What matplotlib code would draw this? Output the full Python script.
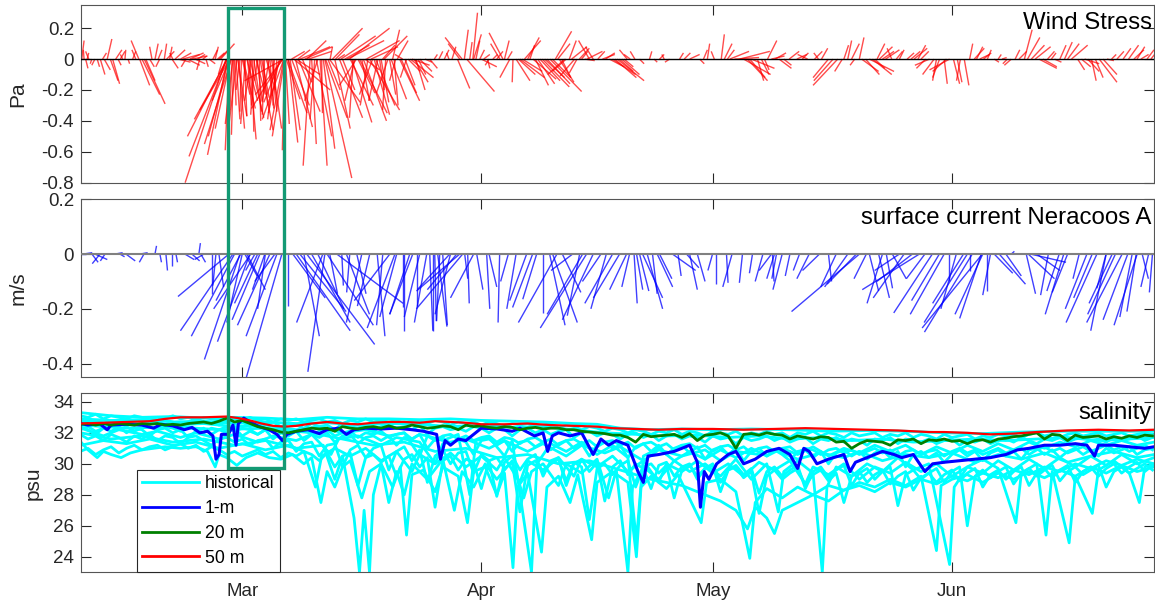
import numpy as np
import matplotlib
matplotlib.use('Agg')
import matplotlib.pyplot as plt
from matplotlib.collections import LineCollection
from matplotlib.patches import Rectangle
from matplotlib.lines import Line2D
from matplotlib.ticker import FormatStrFormatter

plt.rcParams['font.family'] = ['Liberation Sans', 'DejaVu Sans']
plt.rcParams['axes.unicode_minus'] = False

# ---------------- data (time = day of year, Jan 1 = 0) ----------------
month_ticks = [59, 90, 120, 151]
month_labels = ['Mar', 'Apr', 'May', 'Jun']

# wind stress sticks: time, east (Pa), north (Pa)
wind_t = [38.2, 38.5, 38.7, 39.1, 39.9, 40.6, 41.1, 41.5, 41.9, 42.2,
          42.6, 43.2, 43.8, 45.6, 45.7, 46.0, 46.3, 46.5, 47.3, 47.7,
          48.1, 48.3, 48.9, 49.6, 49.9, 50.3, 50.7, 51.3, 51.7, 52.2,
          52.9, 53.5, 54.3, 55.2, 55.8, 56.2, 56.5, 56.9, 57.0, 57.0,
          57.1, 57.1, 57.3, 57.3, 57.4, 57.4, 57.7, 57.9, 58.2, 58.4,
          58.7, 59.0, 59.3, 59.6, 59.9, 60.2, 60.5, 60.8, 61.0, 61.3,
          61.7, 62.1, 62.5, 62.8, 63.2, 64.3, 64.4, 64.4, 64.4, 64.5,
          64.5, 64.7, 65.2, 65.4, 65.7, 66.0, 65.4, 66.2, 66.5, 67.1,
          67.8, 68.4, 68.8, 69.1, 69.3, 69.7, 69.8, 70.1, 70.4, 70.7,
          71.1, 71.4, 71.6, 72.0, 72.3, 72.9, 73.2, 73.6, 73.8, 74.2,
          74.5, 74.9, 75.1, 75.5, 75.9, 76.3, 76.8, 77.2, 77.6, 78.1,
          78.5, 78.9, 79.4, 79.8, 80.1, 80.5, 81.0, 81.5, 82.0, 82.7,
          83.9, 85.2, 86.2, 86.9, 87.5, 87.8, 88.1, 88.5, 88.9, 89.3,
          89.8, 90.3, 90.8, 91.5, 92.8, 93.0, 93.4, 93.7, 94.1, 94.5,
          95.0, 95.6, 96.3, 97.0, 97.6, 98.2, 98.9, 99.6, 100.1, 100.8,
          101.4, 102.1, 102.7, 103.4, 104.0, 105.1, 105.7, 106.6, 107.6, 108.2,
          108.9, 109.9, 110.5, 111.8, 113.1, 114.4, 115.7, 117.0, 118.3, 119.3,
          120.2, 121.1, 121.9, 122.8, 123.5, 124.5, 125.0, 125.8, 126.7, 127.1,
          127.6, 128.6, 129.9, 130.9, 132.3, 133.2, 134.1, 136.2, 136.8, 137.5,
          138.4, 139.0, 139.8, 140.3, 141.0, 141.6, 142.4, 143.2, 144.2, 145.2,
          146.1, 147.0, 148.1, 149.4, 150.0, 150.7, 151.7, 152.6, 153.3, 153.9,
          154.6, 155.6, 156.5, 157.5, 158.7, 159.7, 160.4, 160.8, 161.3, 162.3,
          163.4, 164.3, 165.6, 166.5, 167.3, 168.2, 169.1, 170.1, 171.1, 172.4,
          173.9, 174.6, 175.5, 176.3]
wind_u = [.03, -.01, .03, -.04, -.04, .06, .08, .06, .10, .09,
          .08, .06, .01, -.10, .13, .23, .27, .12, -.03, .04,
          .05, -.05, .03, .03, .08, .13, .16, .22, -.06, .18,
          .13, -.04, .03, .06, .09, .18, -.06, -.53, -.49, -.51,
          -.43, -.26, -.27, -.05, -.39, -.23, -.03, -.03, .05, .12,
          -.05, .10, .03, .14, .09, -.09, .10, .12, -.04, .17,
          .06, .12, -.09, .13, -.09, -.36, -.28, -.18, -.51, -.03,
          -.16, .18, .13, .23, .47, .31, .17, .16, .39, .36,
          -.09, -.06, -.17, .09, .01, .35, .28, .16, .03, .39,
          .31, .09, .30, .16, .32, .52, .26, -.13, -.22, .36,
          .10, .19, .43, .39, -.17, .25, .06, .16, -.04, .08,
          .09, -.08, .26, -.10, .13, .16, .23, .12, .16, .09,
          .04, .06, .05, .16, -.22, .05, .36, .03, .06, .05,
          .06, .08, .03, .06, -.18, .06, .06, -.13, -.01, .18,
          .32, .21, .06, .17, .26, .26, .41, .21, .19, -.22,
          .09, -.19, .13, .13, -.14, .09, .16, .19, .35, .23,
          -.10, -.06, .06, .03, .06, -.06, .05, .13, .06, .03,
          -.04, .04, .09, .32, .39, .26, .30, .08, .06, .12,
          .17, .16, .13, .13, -.13, .10, .08, -.32, -.10, .05,
          -.06, .06, .18, .32, .13, .17, .18, -.06, .06, .09,
          .17, .10, -.19, -.09, .04, -.26, .06, .06, .04, .13,
          .13, .05, .06, .06, -.09, .10, .10, .16, .17, .23,
          .09, .09, .10, .21, .09, .19, .06, .23, .09, .09,
          .13, .13, .10, .09]
wind_v = [.12, .06, -.06, .05, -.04, -.10, -.07, .13, -.14, -.16,
          .06, .05, .06, .12, -.17, -.23, -.29, -.14, .08, .10,
          .06, -.05, .10, .08, -.06, .06, -.02, .03, -.05, .04,
          -.03, -.07, -.05, .06, .04, .10, -.10, -.80, -.63, -.50,
          -.39, -.62, -.50, -.59, -.33, -.27, -.33, -.49, -.39, -.37,
          -.20, -.23, -.37, -.27, -.52, -.27, -.34, -.23, -.14, -.46,
          -.30, -.20, -.27, -.45, -.39, -.23, -.39, -.46, -.14, -.59,
          -.50, -.26, -.46, -.30, -.20, -.10, .05, .06, .08, .08,
          -.69, -.39, -.27, -.69, -.35, -.77, -.38, -.20, .08, .20,
          .16, .03, -.38, -.20, .09, .20, -.41, -.27, -.17, -.35,
          -.27, -.07, .12, -.33, -.23, -.30, -.20, .09, -.33, -.23,
          .19, -.14, -.27, .03, -.17, -.08, -.04, -.20, -.08, -.02,
          .03, .06, .08, -.19, .14, .19, -.21, .11, .30, .12,
          .06, .03, -.06, .03, .17, .12, .05, -.12, -.15, -.14,
          -.12, .12, .09, -.17, -.14, -.12, -.21, .18, -.15, -.10,
          .12, -.11, .07, -.01, .12, .05, .03, -.05, -.14, -.10,
          .06, .05, -.03, .05, .03, -.02, .04, .03, -.03, .10,
          .05, .16, .06, .01, .05, -.14, -.06, -.14, -.07, .12,
          .02, -.06, .05, .03, .03, .05, .07, -.17, -.08, .12,
          -.04, .14, -.10, -.08, -.06, .08, .06, .07, .06, .04,
          .07, .05, -.04, -.12, -.16, -.07, -.15, -.17, .10, .07,
          .03, .06, -.02, .01, -.04, .05, .19, .14, .09, -.06,
          .05, -.02, .11, .09, -.07, -.03, -.14, -.15, -.01, .05,
          .09, .06, .03, .06]

wind_t_extra = [57.5, 57.6, 57.8, 58.0, 58.3, 58.5, 58.9, 59.1, 59.4, 59.7,
                60.0, 60.3, 60.6, 60.9, 61.2, 61.5, 61.9, 62.3, 62.6, 63.0,
                63.5, 63.8, 64.0, 64.2, 64.6, 64.9, 65.0, 65.9, 66.3, 66.8,
                67.4, 67.6, 68.0, 68.6, 69.5, 70.3, 71.0, 71.8, 72.6, 73.0,
                73.4, 74.0, 74.7, 75.3, 75.7, 76.1, 76.6, 77.0, 77.4, 77.9,
                78.3, 78.7, 79.1, 79.6, 80.3, 80.8, 81.3, 81.8, 38.9, 39.5,
                40.2, 40.9, 42.9, 43.5, 44.2, 44.8, 45.2, 47.0, 49.2, 50.0,
                51.0, 51.9, 52.5, 53.2, 53.9, 54.7, 55.5, 56.0, 83.3, 84.5,
                85.8, 87.2, 89.0, 90.0, 91.0, 92.0, 92.4, 94.8, 95.3, 96.0,
                96.7, 97.3, 97.9, 98.5, 99.2, 99.9, 100.4, 101.0, 101.7, 102.4,
                103.0, 103.7, 104.5, 106.1, 107.0, 107.3, 107.9, 108.5, 109.3, 112.4,
                113.7, 116.3, 118.8, 121.5, 122.2, 124.0, 124.8, 126.3, 128.1, 129.2,
                131.6, 133.7, 135.0, 135.6, 137.0, 138.0, 139.3, 140.7, 141.3, 142.0,
                143.8, 145.7, 146.6, 147.6, 148.7, 149.0, 150.3, 151.2, 152.1, 154.2,
                155.1, 157.0, 158.2, 159.2, 161.8, 162.8, 163.9, 165.0, 166.0, 167.8,
                168.6, 169.6, 170.6, 171.7, 173.2, 175.0, 176.8]
wind_u_extra = [-.20, -.35, -.10, .02, -.12, .08, -.02, .16, -.06, .05,
                .18, .02, -.05, .07, .02, .10, -.03, .08, .03, .05,
                -.05, -.14, -.22, -.40, .05, .25, .12, .22, .28, .12,
                .25, .30, .06, .20, .15, .40, .20, .45, .48, .30,
                -.05, .22, .30, -.10, .35, .20, -.12, .10, .30, -.15,
                .20, .05, .14, .20, -.08, .30, .18, .10, .02, -.02,
                .03, .05, .04, -.03, .02, .04, -.05, .06, .10, -.04,
                .14, .16, .20, .10, .05, .08, .04, .12, .10, .05,
                -.03, -.15, .10, .20, -.05, .08, -.12, .22, .26, .15,
                .30, .22, .35, .30, .24, .16, .12, -.18, .20, -.10,
                .08, .20, -.10, .12, .30, .28, .18, .12, -.08, .04,
                -.03, .08, .05, .10, .25, .35, .20, .10, .14, .10,
                .08, -.06, -.20, -.25, .06, .10, .22, .25, .10, .15,
                .08, .12, .10, -.12, -.15, -.05, -.18, .08, -.05, .08,
                .10, .04, -.06, .06, .20, .18, .06, .08, .15, .12,
                .15, .10, .18, .06, .10, .10, .08]
wind_v_extra = [-.45, -.55, -.42, -.30, -.50, -.45, -.34, -.32, -.42, -.30,
                -.38, -.47, -.36, -.28, -.40, -.25, -.36, -.32, -.24, -.34,
                -.30, -.35, -.28, -.32, -.42, -.35, -.54, -.44, -.34, -.15,
                .12, .05, -.55, -.50, -.58, -.28, -.45, .15, .12, -.30,
                -.38, -.22, -.40, -.30, .08, -.36, -.27, -.28, .15, -.22,
                -.26, -.30, .12, -.22, -.12, -.12, -.15, -.10, .04, -.03,
                -.05, .04, -.04, .03, -.03, .05, .06, -.05, .05, .04,
                .04, -.04, .02, .03, .02, -.03, .08, .06, -.06, .05,
                .04, .10, .16, -.05, -.04, .05, .10, -.10, -.08, .14,
                -.13, -.16, -.18, -.16, -.12, .10, -.12, -.08, .08, -.09,
                .05, .05, .08, .04, -.10, -.12, -.08, -.05, .03, -.02,
                .03, .04, .06, .10, .05, -.10, -.12, -.10, .04, -.04,
                .04, .04, -.12, -.14, .09, .10, -.08, -.10, .10, .05,
                .05, .05, .09, -.06, -.10, -.14, -.08, -.16, -.14, .08,
                .04, .03, -.03, .06, .08, -.05, .04, .09, .10, -.05,
                -.08, -.12, -.10, .03, .07, .08, .05]

# surface current sticks: time, east (m/s), north (m/s)
cur_t = [38.36, 38.75, 39.52, 39.91, 40.56, 41.21, 42.50, 43.15, 43.93, 45.74,
         46.26, 47.69, 48.33, 49.11, 49.89, 50.41, 51.57, 52.48, 53.38, 53.64,
         54.03, 55.07, 55.59, 55.98, 57.27, 57.79, 58.70, 59.99, 64.14, 62.58,
         61.29, 60.10, 58.80, 59.34, 59.60, 60.64, 61.93, 63.23, 64.91, 69.45,
         69.71, 65.56, 66.47, 67.37, 68.80, 70.35, 71.91, 72.94, 73.85, 75.53,
         77.22, 78.13, 71.26, 79.81, 80.72, 81.62, 83.31, 83.96, 84.99, 85.90,
         87.84, 87.58, 79.03, 81.11, 82.01, 82.92, 83.70, 84.34, 84.60, 87.19,
         86.80, 88.23, 89.40, 90.69, 92.37, 95.87, 96.65, 97.17, 97.94, 103.64,
         103.13, 98.85, 99.24, 102.74, 101.83, 107.01, 107.92, 108.83, 109.21, 110.12,
         110.51, 110.90, 113.10, 112.19, 114.78, 120.48, 121.78, 123.85, 125.15, 127.61,
         128.26, 116.60, 119.97, 128.00, 127.74, 131.24, 133.83, 139.01, 138.62, 139.91,
         146.78, 145.87, 144.19, 140.30, 148.46, 142.50, 143.28, 149.37, 154.94, 153.64,
         151.57, 150.66, 154.81, 155.59, 153.40, 156.49, 157.14, 158.70, 160.64, 160.90,
         161.20, 164.91, 169.19, 173.07, 171.78, 175.02, 174.37, 174.89, 170.99, 167.50,
         175.67, 91.0, 93.5, 100.5, 105.5, 112.8, 115.5, 118.0, 122.5, 130.0,
         136.0, 141.5, 147.5, 152.5, 156.0, 162.0, 166.0, 168.5, 172.2, 176.5,
         58.0, 59.0, 61.0, 62.0, 63.5, 66.0, 67.0, 68.0, 70.0, 72.5,
         74.5, 76.5, 78.8, 80.0, 86.0, 89.0, 94.5, 99.8, 104.5, 106.2,
         109.8, 111.5, 117.0, 126.5, 129.0, 132.5, 135.0, 137.5, 142.0, 144.8,
         150.0, 153.0, 155.0, 158.0, 163.5, 165.5, 169.8, 171.0, 173.8, 177.0]
cur_u = [.06, -.04, .04, .08, -.05, -.03, .05, .03, .06, .05,
         -.03, .01, .01, .01, .0, .01, .06, .05, .01, .03,
         -.06, .0, -.02, .03, -.33, -.34, -.23, -.21, -.23, -.21,
         -.18, -.24, -.16, .08, .12, -.06, -.08, -.13, .0, -.17,
         -.11, .21, .30, .44, .17, .05, .01, -.02, .06, -.08,
         -.04, -.23, .43, .0, -.13, .0, .02, .01, .03, -.21,
         .02, -.30, -.11, -.15, -.10, -.08, .0, .06, -.02, -.28,
         -.19, .01, .04, .02, -.01, -.11, -.13, -.09, .0, -.30,
         -.23, .10, .16, -.08, -.14, -.18, -.17, -.11, -.05, .04,
         .06, .13, .08, .03, .15, .0, .01, -.02, -.02, -.08,
         -.03, .08, -.03, -.05, .01, -.04, -.11, -.44, -.19, -.08,
         -.37, -.23, -.16, .06, -.25, .04, .09, -.18, -.39, -.31,
         -.10, .0, -.14, .0, .0, .12, .17, .02, .06, .17,
         .23, -.08, -.12, -.23, -.15, -.15, -.08, -.06, -.06, -.04,
         .04, .05, -.05, .12, -.12, .10, .02, .05, -.06, -.03,
         -.10, .07, -.12, -.20, -.05, .15, -.10, -.14, -.18, -.05,
         -.28, -.10, -.15, -.05, -.20, .35, .10, .25, .30, .15,
         -.10, .05, -.18, .00, -.10, -.15, -.06, -.25, -.20, -.10,
         .02, .10, .05, -.05, -.06, -.08, .02, -.15, -.10, -.20,
         -.22, -.28, -.18, .10, -.05, -.12, -.20, -.10, -.16, -.02]
cur_v = [.005, .0, -.03, -.02, -.035, -.025, .005, -.01, -.025, .005,
         -.03, .03, -.03, -.06, -.045, -.03, -.02, -.025, .04, -.03,
         -.02, -.145, -.115, -.12, -.155, -.28, -.385, -.32, -.45, -.26,
         -.24, -.20, -.17, -.08, -.13, -.06, -.13, -.10, -.19, -.25,
         -.43, -.16, -.21, -.33, -.20, -.145, -.115, -.14, -.145, -.19,
         -.26, -.17, -.18, -.195, -.22, -.19, -.28, -.245, -.26, -.13,
         -.09, -.20, -.23, -.22, -.23, -.25, -.28, -.265, -.245, -.135,
         -.13, -.18, -.13, -.20, -.25, -.17, -.195, -.165, -.215, -.27,
         -.22, -.26, -.25, -.225, -.06, -.18, -.16, -.13, -.12, -.13,
         -.135, -.16, -.09, -.145, -.06, -.11, -.105, -.105, -.07, -.06,
         -.09, -.05, -.06, -.09, -.10, -.06, -.06, -.21, -.11, -.09,
         -.13, -.10, -.06, -.135, -.215, -.125, -.09, -.17, -.27, -.285,
         -.20, -.10, -.235, -.135, -.06, -.07, -.11, .01, -.145, -.09,
         -.03, -.135, -.16, -.25, -.18, -.26, -.23, -.21, -.125, -.09,
         -.09, -.12, -.10, -.14, -.10, -.12, -.08, -.10, -.12, -.08,
         -.12, -.16, -.09, -.18, -.15, -.06, -.14, -.20, -.22, -.12,
         -.30, -.25, -.18, -.20, -.30, -.28, -.30, -.25, -.26, -.22,
         -.25, -.30, -.27, -.28, -.22, -.16, -.20, -.25, -.24, -.20,
         -.18, -.20, -.13, -.10, -.13, -.09, -.10, -.12, -.18, -.16,
         -.22, -.25, -.22, -.08, -.15, -.22, -.25, -.28, -.24, -.14]

# salinity (psu): irregular (time, value) readings
sal_50m = [(38.1, 32.6), (41, 32.65), (44, 32.7), (47, 32.75), (49, 32.9), (51, 33.0),
           (54, 33.0), (57, 33.05), (58.5, 32.95), (60, 32.8), (61.5, 32.6), (63, 32.45),
           (64.5, 32.4), (66, 32.45), (68, 32.6), (70, 32.7), (72, 32.6), (74, 32.55),
           (76, 32.65), (78, 32.7), (80, 32.7), (82, 32.65), (84, 32.75), (86, 32.7),
           (88, 32.65), (90, 32.55), (93, 32.55), (96, 32.6), (99, 32.5), (102, 32.45),
           (105, 32.4), (107, 32.3), (110, 32.25), (113, 32.2), (116, 32.25), (120, 32.25),
           (124, 32.2), (128, 32.25), (132, 32.3), (136, 32.25), (140, 32.2), (144, 32.15),
           (148, 32.05), (150, 32.05), (153, 32.0), (156, 31.9), (159, 31.95), (162, 32.05),
           (166, 32.15), (170, 32.2), (174, 32.15), (177.2, 32.2)]
sal_1m = [(38.1, 32.6), (39, 32.5), (40.5, 32.6), (41.5, 32.2), (42, 32.5), (44, 32.55),
          (46, 32.5), (47.5, 32.3), (48.5, 32.55), (50, 32.45), (51.5, 32.2), (52.5, 32.35),
          (53.5, 32.0), (54.5, 32.1), (55.2, 31.8), (55.6, 30.3), (56, 30.6), (56.3, 31.9),
          (57.2, 31.9), (57.8, 32.5), (58.2, 31.2), (58.5, 32.6), (59.2, 32.95), (60, 32.7),
          (61.2, 32.4), (62.5, 32.2), (63.5, 31.9), (64.2, 31.5), (64.8, 31.9), (66, 32.1),
          (67.5, 32.2), (69, 31.95), (70, 32.2), (71.5, 32.3), (72.5, 31.9), (73.5, 32.2),
          (75, 32.3), (77, 32.25), (79, 32.3), (81, 32.2), (82.5, 32.1), (84.2, 31.9),
          (84.7, 30.3), (85.3, 31.5), (86, 31.2), (87, 31.6), (88, 31.5), (89, 31.9),
          (90, 32.3), (92, 32.25), (94, 32.1), (95, 32.3), (96.9, 31.8), (98.0, 32.0),
          (98.6, 30.8), (99.2, 31.8), (100, 32.0), (101.5, 31.8), (103, 32.0), (104.5, 30.6),
          (105.5, 31.6), (106.5, 31.2), (107.5, 31.5), (109, 31.2), (110.3, 29.5), (111, 28.8),
          (111.6, 30.5), (113, 30.6), (115, 30.8), (117, 31.2), (118, 30.1), (118.4, 27.2),
          (118.9, 29.5), (119.5, 29.0), (120.5, 30.0), (122, 30.6), (123, 30.8), (124, 30.0),
          (125.5, 30.3), (127, 30.8), (128.6, 31.0), (130, 30.6), (131, 29.7), (131.8, 31.0),
          (132.5, 30.8), (133.5, 30.0), (135, 30.3), (137, 30.6), (137.8, 29.5), (138.5, 30.1),
          (140, 30.4), (142, 30.8), (143.5, 30.6), (144.5, 30.4), (146, 30.6), (147.5, 29.5),
          (148.5, 30.0), (150, 30.1), (152, 30.2), (154, 30.3), (156, 30.4), (158, 30.6),
          (159.5, 30.9), (161, 31.0), (163, 31.2), (165, 31.2), (167, 31.3), (168.5, 31.2),
          (169.5, 30.5), (170, 31.2), (172, 31.2), (174, 31.1), (176, 31.0), (177.2, 31.1)]

hist_a = [(38.1, 33.3), (42, 33.1), (46, 33.0), (50, 33.05), (54, 32.95), (58, 33.0),
          (62, 32.95), (66, 32.85), (70, 33.0), (74, 32.9), (78, 32.9), (82, 32.85),
          (86, 32.9), (90, 32.8), (94, 32.75), (98, 32.7), (102, 32.6), (105, 32.55),
          (108, 32.3), (112, 32.2), (116, 32.25), (120, 32.2), (125, 32.25), (130, 32.2),
          (135, 32.1), (140, 32.15), (145, 32.1), (150, 32.0), (155, 31.95), (160, 32.05),
          (165, 32.1), (170, 32.1), (177.2, 32.1)]
hist_b = [(38.1, 32.9), (42, 32.8), (46, 32.85), (50, 32.7), (54, 32.75), (58, 32.6),
          (62, 32.7), (66, 32.6), (70, 32.65), (74, 32.5), (78, 32.6), (82, 32.55),
          (86, 32.4), (90, 32.5), (94, 32.35), (98, 32.4), (102, 32.2), (106, 32.0),
          (110, 31.9), (114, 31.8), (118, 31.85), (122, 31.7), (126, 31.8), (130, 31.6),
          (134, 31.7), (138, 31.5), (142, 31.6), (146, 31.4), (150, 31.5), (154, 31.6),
          (158, 31.5), (162, 31.6), (166, 31.7), (170, 31.5), (174, 31.6), (177.2, 31.7)]
hist_c = [(38.1, 32.3), (41, 31.8), (43, 32.2), (46, 31.9), (48, 32.1), (51, 31.7),
          (53, 32.0), (56, 31.6), (58, 31.9), (61, 31.4), (63, 31.8), (66, 31.5),
          (68, 31.9), (70.5, 30.6), (71.5, 31.6), (74, 31.8), (77, 31.2), (79, 31.7),
          (82, 31.4), (84, 30.0), (85, 31.3), (88, 31.6), (91, 31.0), (93, 31.5),
          (96, 30.8), (98, 31.3), (101, 30.5), (103, 31.2), (106, 30.7), (108, 31.1),
          (111, 30.2), (113, 30.9), (116, 30.5), (119, 30.9), (121, 30.2), (123, 30.8),
          (126, 30.6), (128, 30.9), (131, 30.3), (134, 30.7), (137, 30.4), (139, 30.8),
          (142, 30.2), (145, 30.6), (148, 30.4), (151, 30.7), (154, 30.1), (157, 30.6),
          (160, 30.3), (163, 30.7), (166, 30.1), (169, 30.5), (172, 30.8), (175, 30.4),
          (177.2, 30.6)]
hist_d = [(38.1, 31.4), (39, 30.9), (40.2, 30.4), (41, 30.8), (42, 30.6), (43.3, 30.4),
          (44.5, 30.7), (46, 30.9), (47.5, 31.0), (49, 31.1), (51, 31.0), (53, 31.1),
          (54.5, 30.8), (55.5, 29.8), (56, 30.6), (57, 30.4), (58.3, 29.9), (59.5, 30.4),
          (61, 30.7), (62.5, 30.4), (64, 30.3), (65.5, 30.6), (67, 30.0), (68, 30.4),
          (69.2, 27.5), (70, 29.5), (71, 28.5), (72, 29.8), (73, 30.2), (74.5, 27.8),
          (75.5, 29.5), (77, 30.0), (78.5, 28.5), (79.5, 29.8), (80.3, 25.4), (81, 29.3),
          (82.5, 29.6), (84, 28.2), (85, 29.8), (87, 29.2), (88.2, 26.2), (89, 29.5),
          (90.5, 29.8), (92, 28.0), (93, 29.4), (94.1, 23.3), (94.7, 28.5), (96, 29.4),
          (97.8, 24.3), (98.5, 28.5), (100, 29.2), (101.5, 27.5), (102.5, 29.3), (104.3, 25.1),
          (105, 28.8), (107, 29.5), (109, 28.8), (110.1, 24.0), (110.7, 28.5), (112, 29.2),
          (114, 28.4), (115.5, 29.3), (118.5, 26.2), (119.2, 28.8), (121, 29.0), (123, 28.2),
          (124.8, 23.9), (125.5, 27.5), (127, 28.4), (129, 27.8), (131, 28.5), (133, 28.0),
          (135, 28.6), (137, 28.3), (139, 28.8), (141, 28.5), (143, 29.0), (145, 28.6),
          (147, 29.2), (149, 24.4), (149.6, 28.6), (151, 29.0), (153, 29.3), (155, 28.8),
          (157, 29.4), (159, 29.0), (161, 29.5), (163, 29.1), (165, 29.6), (167, 29.2),
          (169, 29.8), (171, 29.4), (173, 29.9), (175, 29.5), (177.2, 29.8)]
hist_e = [(38.1, 32.0), (42, 31.6), (46, 31.8), (50, 31.4), (54, 31.6), (58, 31.2),
          (62, 31.5), (66, 31.0), (69.5, 31.2), (71, 29.0), (72, 30.5), (73.5, 26.5),
          (74.2, 23.0), (74.8, 27.0), (75.5, 23.0), (76, 28.0), (77, 30.0), (78, 27.5),
          (79, 29.5), (80, 28.0), (81, 30.0), (83, 29.0), (85, 30.3), (86.5, 27.0),
          (87.5, 29.5), (89, 28.5), (90.5, 30.0), (92, 29.0), (94, 30.2), (95.5, 27.8),
          (96.5, 29.5), (98, 30.0), (100, 28.6), (101, 30.0), (103, 29.4), (105, 30.3),
          (106.5, 27.8), (107.5, 29.6), (109, 23.0), (109.6, 28.5), (111, 29.8), (113, 29.0),
          (115, 30.2), (117, 29.5), (119, 30.0), (121, 29.2), (123, 30.3), (125, 29.0),
          (127, 30.0), (128.5, 26.9), (129.2, 29.5), (131, 30.2), (133, 29.4), (134.2, 23.0),
          (134.8, 28.5), (136, 29.8), (138, 29.2), (140, 30.0), (142, 29.5), (144, 30.4),
          (146, 29.6), (148, 30.0), (150.7, 23.5), (151.3, 28.5), (153, 29.8), (155, 30.3),
          (157, 29.7), (159.3, 26.2), (160, 29.4), (162, 30.0), (163.2, 25.4), (164, 29.5),
          (166.2, 24.9), (167, 29.2), (169.2, 26.8), (170, 29.6), (172, 30.2), (174, 29.4),
          (175.3, 27.5), (176, 29.8), (177.2, 30.0)]
hist_f = [(38.1, 31.2), (41, 31.5), (44, 31.3), (47, 31.6), (50, 31.2), (53, 31.4),
          (56, 31.0), (59, 31.3), (62, 30.9), (65, 31.2), (67, 30.8), (68.5, 28.5),
          (69.3, 30.5), (71, 31.0), (73, 30.5), (75, 31.0), (77, 30.2), (79, 30.8),
          (81, 29.5), (82, 30.6), (84, 30.0), (86, 30.7), (88, 29.8), (90, 30.5),
          (92, 29.6), (93, 30.4), (95, 28.8), (96, 30.2), (98, 29.6), (100, 30.4),
          (102, 29.2), (103, 30.3), (105, 29.8), (107, 30.5), (109, 29.5), (111, 30.2),
          (113, 28.8), (114, 30.0), (116, 29.5), (118, 30.2), (120, 29.4), (122, 30.0),
          (124, 29.2), (126, 30.1), (128, 29.6), (130, 30.2), (132, 28.7), (133, 29.8),
          (135, 29.3), (137, 30.0), (139, 29.0), (141, 29.8), (143, 29.4), (145, 30.1),
          (147, 29.5), (149, 30.0), (151, 29.2), (153, 29.8), (155, 29.4), (157, 30.2),
          (159, 29.6), (161, 30.3), (163, 29.7), (165, 30.4), (167, 29.8), (169, 30.5),
          (171, 29.9), (173, 30.6), (175, 30.0), (177.2, 30.4)]
hist_g = [(38.1, 32.5), (44, 32.3), (50, 32.4), (56, 32.2), (62, 32.3), (68, 32.0),
          (72, 31.6), (76, 31.2), (80, 31.4), (84, 30.8), (88, 31.0), (92, 30.4),
          (96, 30.6), (100, 30.0), (104, 30.2), (108, 29.6), (112, 29.0), (116, 28.6),
          (119, 28.0), (121, 27.6), (123, 27.0), (124.5, 25.8), (125.5, 27.2), (127, 26.5),
          (128, 25.5), (129, 27.0), (131, 27.5), (133, 28.0), (135, 27.6), (137, 28.3),
          (139, 28.6), (141, 28.2), (143, 28.8), (145, 28.5), (147, 29.0), (149, 28.7),
          (151, 29.2), (153, 28.9), (155, 29.4), (157, 29.1), (159, 29.6), (161, 29.3),
          (163, 29.8), (165, 29.5), (167, 30.0), (169, 29.7), (171, 30.2), (173, 29.9),
          (175, 30.3), (177.2, 30.0)]
hist_h = [(38.1, 32.8), (42, 32.6), (46, 32.7), (50, 32.5), (54, 32.6), (58, 32.4),
          (62, 32.5), (66, 32.2), (69, 32.4), (72, 32.0), (75, 32.2), (78, 31.8),
          (80, 32.0), (82, 30.5), (83, 31.8), (85, 31.5), (87, 31.9), (88.5, 28.0),
          (89.3, 31.5), (91, 31.7), (93, 30.5), (94, 31.5), (96.5, 23.0), (97.2, 30.0),
          (99, 31.3), (101, 30.8), (103, 31.4), (105, 30.6), (107, 31.2), (109, 30.4),
          (110.1, 25.0), (111, 30.5), (113, 31.0), (115, 30.2), (117, 30.8), (119, 30.3),
          (121, 30.9), (123, 30.4), (125, 31.0), (127, 30.5), (129, 31.0), (131, 30.6),
          (133, 31.1), (135, 30.5), (137, 31.0), (139, 30.7), (141, 31.2), (143, 30.8),
          (145, 31.2), (147, 30.6), (149, 31.1), (151, 30.7), (153, 31.2), (155, 30.8),
          (157, 31.3), (159, 30.9), (161, 31.4), (163, 31.0), (165, 31.4), (167, 31.1),
          (169, 31.5), (171, 31.2), (173, 31.5), (175, 31.2), (177.2, 31.4)]

# daily readings (days 38 .. 177)
daily_days = list(range(38, 178))
sal_20m_daily = [32.55, 32.6, 32.5, 32.6, 32.5, 32.6, 32.55, 32.5, 32.6, 32.55,
                 32.6, 32.5, 32.55, 32.5, 32.6, 32.65, 32.7, 32.6, 32.75, 32.95,
                 32.7, 32.8, 32.6, 32.4, 32.3, 32.2, 32.05, 32.0, 32.1, 32.2,
                 32.3, 32.25, 32.3, 32.1, 32.4, 32.3, 32.25, 32.35, 32.4, 32.3,
                 32.45, 32.3, 32.35, 32.5, 32.4, 32.3, 32.35, 32.45, 32.4, 32.2,
                 32.5, 32.4, 32.45, 32.35, 32.3, 32.4, 32.35, 32.2, 32.3, 32.35,
                 32.25, 32.3, 32.3, 32.2, 32.2, 32.1, 32.05, 32.0, 31.95, 31.85,
                 31.85, 31.7, 31.4, 31.9, 31.75, 31.8, 31.85, 31.9, 31.7, 31.95,
                 31.5, 31.85, 31.9, 32.0, 31.8, 31.0, 31.9, 31.95, 31.85, 32.0,
                 31.9, 31.85, 31.6, 31.8, 31.7, 31.6, 31.75, 31.7, 31.4, 31.45,
                 31.0, 31.3, 31.5, 31.45, 31.4, 31.2, 31.55, 31.5, 31.6, 31.3,
                 31.55, 31.5, 31.6, 31.45, 31.5, 31.3, 31.5, 31.55, 31.4, 31.6,
                 31.65, 31.75, 31.8, 31.9, 32.0, 31.6, 31.9, 31.85, 31.5, 31.85,
                 31.7, 31.75, 31.8, 31.6, 31.75, 31.65, 31.8, 31.7, 31.85, 31.8]
hist_i = [32.9, 32.7, 32.8, 32.6, 32.8, 32.7, 32.9, 32.6, 32.7, 32.8,
          32.6, 32.8, 32.7, 32.5, 32.7, 32.8, 32.6, 32.7, 32.5, 32.8,
          32.6, 32.7, 32.4, 32.6, 32.5, 32.7, 32.4, 32.6, 32.5, 32.3,
          32.6, 32.4, 32.5, 32.2, 32.6, 32.4, 32.3, 32.5, 32.1, 32.4,
          32.5, 32.3, 32.4, 32.2, 32.5, 31.9, 32.3, 32.4, 32.2, 32.3,
          32.1, 32.4, 32.3, 32.0, 32.3, 32.2, 31.8, 32.2, 32.3, 32.0,
          32.2, 31.9, 32.1, 32.2, 31.7, 32.0, 32.1, 31.8, 32.0, 31.9,
          31.6, 31.9, 32.0, 31.7, 31.9, 31.5, 31.8, 31.9, 31.6, 31.8,
          31.7, 31.4, 31.8, 31.6, 31.7, 31.3, 31.7, 31.5, 31.6, 31.8,
          31.5, 31.7, 31.4, 31.6, 31.7, 31.3, 31.6, 31.5, 31.7, 31.4,
          31.6, 31.5, 31.2, 31.6, 31.5, 31.7, 31.3, 31.6, 31.5, 31.4,
          31.6, 31.3, 31.5, 31.6, 31.2, 31.5, 31.4, 31.6, 31.3, 31.5,
          31.6, 31.4, 31.7, 31.5, 31.3, 31.6, 31.5, 31.7, 31.4, 31.6,
          31.7, 31.5, 31.6, 31.4, 31.7, 31.5, 31.6, 31.8, 31.5, 31.7]
hist_j = [32.4, 32.2, 31.9, 32.3, 32.1, 32.4, 32.0, 32.3, 32.2, 31.8,
          32.2, 32.3, 32.0, 32.2, 31.7, 32.1, 32.3, 31.9, 32.2, 32.0,
          32.3, 31.8, 32.1, 31.9, 32.2, 31.6, 32.0, 31.8, 32.1, 31.5,
          31.9, 31.7, 32.0, 31.4, 31.8, 31.9, 31.3, 31.7, 31.8, 31.5,
          31.8, 31.2, 31.7, 31.6, 31.9, 31.0, 31.6, 31.7, 31.3, 31.6,
          31.4, 30.6, 31.5, 31.6, 31.2, 31.5, 30.8, 31.4, 31.5, 31.1,
          31.4, 30.9, 31.3, 31.5, 31.0, 31.3, 30.5, 31.2, 31.4, 31.0,
          31.2, 30.4, 31.1, 31.3, 30.8, 31.2, 30.6, 31.0, 31.2, 30.7,
          31.1, 30.3, 30.9, 31.1, 30.6, 31.0, 30.2, 30.8, 31.0, 30.5,
          30.9, 30.6, 30.2, 30.8, 30.9, 30.4, 30.8, 30.0, 30.7, 30.9,
          30.5, 30.8, 30.3, 30.7, 30.9, 30.4, 30.8, 29.8, 30.6, 30.8,
          30.4, 30.7, 30.1, 30.6, 30.9, 30.5, 30.8, 30.2, 30.7, 30.9,
          30.5, 30.8, 30.3, 30.9, 31.0, 30.6, 30.9, 30.4, 30.8, 31.0,
          30.6, 30.9, 30.5, 31.0, 30.7, 30.9, 31.1, 30.6, 30.9, 31.0]
hist_k = [31.9, 31.6, 31.8, 31.5, 31.9, 31.7, 31.4, 31.8, 31.6, 31.9,
          31.5, 31.8, 31.7, 31.3, 31.7, 31.8, 31.5, 31.2, 31.6, 31.7,
          31.4, 31.6, 31.2, 31.5, 31.6, 31.0, 31.4, 31.5, 30.8, 31.3,
          31.4, 30.5, 31.2, 31.3, 29.8, 30.9, 31.2, 30.4, 31.0, 31.2,
          29.6, 30.8, 31.1, 30.2, 30.9, 28.8, 30.5, 30.9, 30.0, 30.7,
          30.8, 29.4, 30.6, 30.2, 27.9, 30.1, 30.5, 29.6, 30.3, 30.6,
          29.2, 30.2, 30.4, 28.6, 30.0, 30.3, 29.5, 30.1, 27.6, 29.8,
          30.2, 29.3, 30.0, 29.7, 28.4, 29.9, 30.1, 29.2, 29.8, 30.0,
          29.0, 29.7, 29.9, 28.2, 29.6, 29.8, 29.1, 29.5, 26.8, 29.2,
          29.6, 29.0, 29.4, 29.7, 28.6, 29.3, 29.6, 28.9, 29.4, 27.5,
          29.2, 29.5, 28.8, 29.3, 29.6, 28.7, 29.2, 29.5, 28.3, 29.1,
          29.4, 28.8, 29.3, 29.6, 28.9, 29.4, 29.7, 28.5, 29.3, 29.6,
          29.0, 29.5, 29.8, 28.6, 29.4, 29.7, 29.1, 29.6, 29.9, 28.8,
          29.5, 29.8, 29.2, 29.7, 30.0, 29.4, 29.8, 30.1, 29.5, 29.9]
hist_l = [33.1, 33.0, 33.2, 32.9, 33.1, 33.0, 32.9, 33.1, 33.0, 32.9,
          33.0, 32.9, 33.1, 32.9, 33.0, 32.8, 33.0, 32.9, 32.8, 33.0,
          32.9, 32.8, 33.0, 32.8, 32.9, 32.7, 32.9, 32.8, 32.9, 32.7,
          32.8, 32.9, 32.7, 32.8, 32.6, 32.8, 32.7, 32.9, 32.7, 32.8,
          32.7, 32.8, 32.6, 32.8, 32.7, 32.6, 32.8, 32.7, 32.5, 32.7,
          32.6, 32.7, 32.5, 32.7, 32.6, 32.4, 32.6, 32.5, 32.6, 32.4,
          32.5, 32.6, 32.3, 32.5, 32.4, 32.2, 32.4, 32.3, 32.1, 32.3,
          32.2, 32.0, 32.2, 32.1, 31.9, 32.1, 32.0, 32.2, 31.9, 32.1,
          32.0, 31.8, 32.1, 32.0, 31.9, 32.1, 31.8, 32.0, 31.9, 32.1,
          31.9, 32.0, 31.7, 32.0, 31.9, 32.1, 31.8, 32.0, 31.9, 31.7,
          32.0, 31.8, 31.9, 32.0, 31.7, 31.9, 31.8, 32.0, 31.7, 31.9,
          31.8, 31.6, 31.9, 31.7, 31.8, 31.9, 31.6, 31.8, 31.7, 31.9,
          31.8, 31.9, 31.7, 31.9, 32.0, 31.8, 31.9, 31.7, 31.9, 32.0,
          31.8, 31.9, 32.0, 31.8, 31.9, 32.0, 31.8, 31.9, 32.0, 31.9]
hist_m = [30.8, 31.0, 30.6, 30.9, 31.1, 30.7, 31.0, 31.2, 30.9, 31.1,
          31.2, 30.9, 31.1, 31.3, 31.0, 31.2, 30.8, 31.1, 30.9, 30.6,
          30.8, 30.5, 30.7, 30.9, 30.6, 30.8, 30.4, 30.7, 30.5, 30.8,
          30.6, 30.2, 30.7, 29.8, 30.5, 30.7, 28.6, 30.4, 30.6, 30.1,
          30.5, 29.2, 30.3, 30.6, 29.8, 30.4, 27.2, 30.2, 30.5, 29.6,
          30.3, 30.1, 28.4, 30.2, 30.4, 29.7, 30.1, 26.9, 29.9, 30.2,
          29.5, 30.0, 30.3, 28.9, 30.1, 29.8, 26.4, 29.7, 30.0, 29.3,
          29.9, 30.2, 28.5, 29.8, 30.0, 29.4, 29.9, 27.8, 29.6, 29.9,
          29.2, 29.7, 30.0, 28.8, 29.6, 29.9, 29.3, 29.7, 28.1, 29.5,
          29.8, 29.2, 29.6, 29.9, 28.4, 29.5, 29.8, 29.1, 29.6, 29.9,
          28.6, 29.4, 29.7, 29.0, 29.5, 29.8, 27.3, 29.3, 29.6, 29.0,
          29.4, 29.7, 28.8, 29.5, 29.8, 26.0, 29.2, 29.6, 29.1, 29.5,
          29.8, 28.7, 29.4, 29.7, 29.2, 29.6, 29.9, 28.9, 29.5, 29.8,
          29.3, 29.6, 29.9, 28.5, 29.5, 29.8, 29.4, 29.7, 30.0, 29.6]
hist_n = [32.2, 32.4, 32.1, 32.3, 32.5, 32.2, 32.4, 32.1, 32.3, 32.4,
          32.2, 32.4, 32.3, 32.1, 32.4, 32.2, 32.0, 32.3, 32.2, 32.4,
          32.1, 32.3, 32.2, 31.9, 32.2, 32.1, 32.3, 31.9, 32.1, 32.2,
          31.9, 32.1, 32.2, 31.8, 32.0, 32.1, 31.7, 32.0, 31.9, 32.1,
          31.7, 31.9, 32.0, 31.6, 31.9, 31.8, 31.5, 31.8, 31.9, 31.6,
          31.8, 31.5, 31.7, 31.8, 31.4, 31.7, 31.6, 31.3, 31.6, 31.7,
          31.4, 31.6, 31.2, 31.5, 31.6, 31.3, 31.5, 31.1, 31.4, 31.5,
          31.2, 31.4, 31.0, 31.3, 31.4, 31.1, 31.3, 30.9, 31.2, 31.3,
          31.0, 31.2, 30.8, 31.1, 31.2, 30.9, 31.1, 30.7, 31.0, 31.1,
          30.8, 31.0, 31.1, 30.7, 31.0, 30.9, 30.6, 30.9, 31.0, 30.7,
          30.9, 30.6, 30.8, 31.0, 30.7, 30.9, 30.5, 30.8, 30.9, 30.6,
          30.8, 30.9, 30.5, 30.8, 31.0, 30.7, 30.9, 30.6, 30.8, 31.0,
          30.7, 30.9, 31.0, 30.6, 30.9, 31.1, 30.8, 31.0, 30.7, 30.9,
          31.1, 30.8, 31.0, 31.2, 30.9, 31.1, 30.8, 31.0, 31.2, 30.9]

historical_pairs = [hist_a, hist_b, hist_c, hist_d, hist_e, hist_f, hist_g, hist_h]
historical_daily = [hist_i, hist_j, hist_k, hist_l, hist_m, hist_n]

# ---------------- figure ----------------
W, H = 1155, 609
fig = plt.figure(figsize=(W / 100, H / 100), dpi=100)


def px_axes(x0, y0, x1, y1):
    return fig.add_axes([x0 / W, 1 - y1 / H, (x1 - x0) / W, (y1 - y0) / H])


ax1 = px_axes(81, 5, 1154, 182.7)
ax2 = px_axes(81, 199.3, 1154, 377.3)
ax3 = px_axes(81, 393.3, 1154, 572.3)
XLIM = (38.1, 177.2)
AXC = '#262626'
TICK_FS = 13.5
TITLE_FS = 17.3
YLAB_FS = 15

for ax in (ax1, ax2, ax3):
    ax.set_xlim(*XLIM)
    ax.set_xticks(month_ticks)
    ax.tick_params(direction='in', length=7.5, width=0.8, colors=AXC,
                   labelsize=TICK_FS, top=True, right=True, pad=5)
    for sp in ax.spines.values():
        sp.set_color('#555555')
        sp.set_linewidth(0.8)
ax1.tick_params(labelbottom=False)
ax2.tick_params(labelbottom=False)
ax3.set_xticklabels(month_labels)
ax3.tick_params(axis='x', pad=8)


def sticks(t, u, v, scale):
    n = min(len(t), len(u), len(v))
    return [[(t[i], 0.0), (t[i] + u[i] * scale, v[i])] for i in range(n)]


# wind sticks
WIND_SCALE = 10.0  # days of x-axis per Pa
segs = sticks(wind_t, wind_u, wind_v, WIND_SCALE) + \
    sticks(wind_t_extra, wind_u_extra, wind_v_extra, WIND_SCALE)
ax1.add_collection(LineCollection(segs, colors='#ff0000', linewidths=1.0, alpha=0.7))
ax1.axhline(0, color='black', lw=1.0, zorder=3)
ax1.set_ylim(-0.8, 0.35)
ax1.set_yticks([-0.8, -0.6, -0.4, -0.2, 0, 0.2])
ax1.yaxis.set_major_formatter(FormatStrFormatter('%g'))
ax1.set_ylabel('Pa', fontsize=YLAB_FS, color=AXC)
ax1.yaxis.set_label_coords(-0.050, 0.5)
ax1.text(0.998, 0.90, 'Wind Stress', transform=ax1.transAxes, ha='right', va='center',
         fontsize=TITLE_FS, color='black')

# current sticks
CUR_SCALE = 20.0  # days of x-axis per m/s
segs = sticks(cur_t, cur_u, cur_v, CUR_SCALE)
ax2.add_collection(LineCollection(segs, colors='#0000ff', linewidths=1.0, alpha=0.75))
ax2.axhline(0, color='#808080', lw=1.5, zorder=3)
ax2.set_ylim(-0.45, 0.2)
ax2.set_yticks([-0.4, -0.2, 0, 0.2])
ax2.yaxis.set_major_formatter(FormatStrFormatter('%g'))
ax2.set_ylabel('m/s', fontsize=YLAB_FS, color=AXC)
ax2.yaxis.set_label_coords(-0.050, 0.5)
ax2.text(0.998, 0.895, 'surface current Neracoos A', transform=ax2.transAxes, ha='right',
         va='center', fontsize=TITLE_FS, color='black')

# salinity
CYAN = '#00ffff'
for h in historical_pairs:
    t, s = zip(*h)
    ax3.plot(t, s, color=CYAN, lw=2.0, zorder=2)
for s in historical_daily:
    n = min(len(daily_days), len(s))
    ax3.plot(daily_days[:n], s[:n], color=CYAN, lw=2.0, zorder=2)
t, s = zip(*sal_1m)
ax3.plot(t, s, color='#0000ff', lw=2.2, zorder=3)
n = min(len(daily_days), len(sal_20m_daily))
ax3.plot(daily_days[:n], sal_20m_daily[:n], color='#008000', lw=2.0, zorder=3)
t, s = zip(*sal_50m)
ax3.plot(t, s, color='#ff0000', lw=1.6, zorder=3)
ax3.set_ylim(23, 34.55)
ax3.set_yticks([24, 26, 28, 30, 32, 34])
ax3.set_ylabel('psu', fontsize=YLAB_FS, color=AXC)
ax3.yaxis.set_label_coords(-0.036, 0.5)
ax3.text(0.998, 0.89, 'salinity', transform=ax3.transAxes, ha='right', va='center',
         fontsize=TITLE_FS, color='black')

handles = [Line2D([], [], color=CYAN, lw=2), Line2D([], [], color='#0000ff', lw=2),
           Line2D([], [], color='#008000', lw=2), Line2D([], [], color='#ff0000', lw=2)]
leg = ax3.legend(handles, ['historical', '1-m', '20 m', '50 m'], loc='lower left',
                 bbox_to_anchor=(0.052, 0.0), bbox_transform=ax3.transAxes, borderaxespad=0,
                 frameon=True, fancybox=False, edgecolor=AXC, fontsize=12.7,
                 handlelength=3.2, labelspacing=0.44, borderpad=0.32, handletextpad=0.35)
leg.get_frame().set_linewidth(0.8)
leg.get_frame().set_alpha(1.0)
leg.set_zorder(10)

# highlight box
rect = Rectangle((227.7 / W, 1 - 468.3 / H), (284.3 - 227.7) / W, (468.3 - 8.3) / H,
                 transform=fig.transFigure, fill=False, edgecolor='#139a74', lw=2.4, zorder=20)
fig.add_artist(rect)

fig.savefig('out.png', dpi=100)
